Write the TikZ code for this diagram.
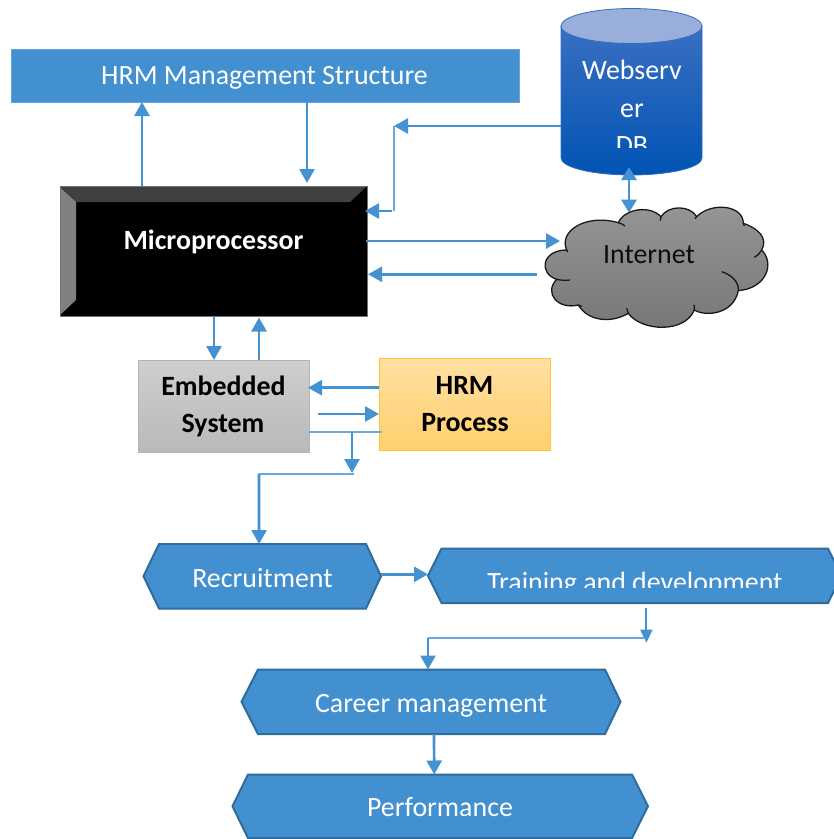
\documentclass[tikz,border=0pt]{standalone}
\usepackage{fontspec}
\setmainfont{Carlito}
\usetikzlibrary{arrows.meta}
\definecolor{hrmblue}{HTML}{4290D0}
\definecolor{hexedge}{HTML}{2F6C9E}
\definecolor{linkblue}{HTML}{4592D3}
\definecolor{thinblue}{HTML}{6AA9DE}
\definecolor{dbtop}{HTML}{3A6FC2}
\definecolor{dbbottom}{HTML}{0054B4}
\definecolor{dblid}{HTML}{9AAEDC}
\definecolor{dbedge}{HTML}{2E6FC4}
\definecolor{embtop}{HTML}{CFCFCF}
\definecolor{embbottom}{HTML}{B9B9B9}
\definecolor{embedge}{HTML}{B4B4B4}
\definecolor{proctop}{HTML}{FFDFA3}
\definecolor{procbottom}{HTML}{FFD06C}
\definecolor{procedge}{HTML}{FFC42E}
\definecolor{cloudtop}{HTML}{969696}
\definecolor{cloudbottom}{HTML}{767676}
\tikzset{
  link/.style={draw=linkblue,line width=2.7pt,-{Triangle[length=14pt,width=15pt]}},
  smalllink/.style={draw=linkblue,line width=2pt,-{Triangle[length=13pt,width=12pt]}},
  bothlink/.style={draw=linkblue,line width=2.7pt,{Triangle[length=13pt,width=15pt]}-{Triangle[length=13pt,width=15pt]}},
  thinlink/.style={draw=thinblue,line width=1.7pt},
  plainlabel/.style={font=\fontsize{27.9}{32}\selectfont,text=white,inner sep=0pt,anchor=base,yshift=-0.8pt},
  boldlabel/.style={font=\fontsize{27.9}{32}\selectfont\bfseries,text=black,inner sep=0pt,anchor=base,yshift=-0.8pt},
  blockbox/.style={rectangle,inner sep=0pt,outer sep=0pt},
  hexfill/.style={fill=hrmblue,draw=hexedge,line width=2pt,line join=miter},
  cloudline/.style={draw=black!90,line width=1.3pt},
}
% name, left tip, left inset, right inset, right tip, top, bottom
\newcommand{\hexblock}[7]{%
  \node[blockbox,minimum width={(#5-#2)*1pt},minimum height={(#7-#6)*1pt}] (#1) at ({(#2+#5)/2},{(#6+#7)/2}) {};
  \draw[hexfill] (#2,{(#6+#7)/2}) -- (#3,#6) -- (#4,#6) -- (#5,{(#6+#7)/2}) -- (#4,#7) -- (#3,#7) -- cycle;
}
\begin{document}
\begin{tikzpicture}[x=1pt,y=-1pt]
\useasboundingbox (0,0) rectangle (834,839);
\clip (0,0) rectangle (834,839);
% ---------- HRM Management Structure
\node[blockbox,fill=hrmblue,draw=hrmblue!80!white,line width=.8pt,minimum width=508pt,minimum height=53pt] (hrm) at (265,75.5) {};
\node[plainlabel] (hrmtext) at (264.5,84) {HRM Management Structure};
% ---------- Database cylinder
\node[blockbox,minimum width=141pt,minimum height=166pt] (db) at (631.5,92) {};
\path[top color=dbtop,bottom color=dbbottom,draw=dbedge,line width=.8pt]
  (561,26) -- (561,158) .. controls (561,167.4) and (592.6,175) .. (631.5,175)
  .. controls (670.4,175) and (702,167.4) .. (702,158) -- (702,26) -- cycle;
\path[fill=dblid,draw=dbedge,line width=.8pt] (631.5,26) ellipse [x radius=70.5,y radius=17.5];
\begin{scope}
  \clip (561,45) rectangle (702,147);
  \node[plainlabel] (dbone) at (632,79) {Webserv};
  \node[plainlabel] (dbtwo) at (632,116.5) {er};
  \node[plainlabel] (dbthree) at (632,154) {DB};
\end{scope}
% ---------- Microprocessor
\node[blockbox,fill=black,draw=black!55,line width=.9pt,minimum width=307pt,minimum height=130pt] (mp) at (213.5,251) {};
\fill[black!75] (61,187) -- (366,187) -- (350,202) -- (76,202) -- cycle;
\fill[black!50] (61,188) -- (76,202) -- (76,300) -- (61,314) -- cycle;
\node[boldlabel,text=white] (mptext) at (213.5,249) {Microprocessor};
% ---------- Internet cloud
\node[blockbox,minimum width=224pt,minimum height=121pt] (net) at (657,267.5) {};
\begin{scope}[shift={(535,200)},x=0.3333pt,y=-0.3333pt]
  \path[top color=cloudtop,bottom color=cloudbottom,cloudline]
    (95,150) .. controls (70,95) and (150,40) .. (250,68)
    .. controls (270,25) and (345,15) .. (378,50)
    .. controls (400,15) and (465,15) .. (485,50)
    .. controls (530,5) and (625,15) .. (625,70)
    .. controls (670,85) and (700,115) .. (680,150)
    .. controls (720,190) and (695,265) .. (610,272)
    .. controls (595,345) and (510,350) .. (478,330)
    .. controls (450,400) and (320,395) .. (280,340)
    .. controls (230,370) and (160,365) .. (130,315)
    .. controls (70,330) and (25,280) .. (65,238)
    .. controls (10,220) and (20,150) .. (95,150) -- cycle;
  \draw[cloudline] (250,68) .. controls (258,70) and (265,74) .. (270,78);
  \draw[cloudline] (378,50) .. controls (377,54) and (377,58) .. (376,62);
  \draw[cloudline] (485,50) .. controls (483,52) and (482,54) .. (480,56);
  \draw[cloudline] (625,70) .. controls (625,72) and (626,74) .. (628,78);
  \draw[cloudline] (680,150) .. controls (675,160) and (668,167) .. (658,172);
  \draw[cloudline] (610,272) .. controls (612,245) and (590,225) .. (560,215);
  \draw[cloudline] (478,330) .. controls (478,325) and (478,320) .. (477,314);
  \draw[cloudline] (280,340) .. controls (278,335) and (276,330) .. (275,325);
  \draw[cloudline] (130,315) .. controls (133,316) and (137,318) .. (141,319);
  \draw[cloudline] (65,238) .. controls (78,241) and (92,242) .. (105,240);
  \draw[cloudline] (95,150) .. controls (96,152) and (97,154) .. (98,156);
\end{scope}
\node[font=\fontsize{27.9}{32}\selectfont,text=black!95,inner sep=0pt,anchor=base] (nettext) at (649,263.5) {Internet};
% ---------- Embedded System
\node[blockbox,top color=embtop,bottom color=embbottom,draw=embedge,line width=.9pt,minimum width=171pt,minimum height=92pt] (emb) at (223.5,406) {};
\node[boldlabel] (embone) at (223.5,395) {Embedded};
\node[boldlabel] (embtwo) at (223,432) {System};
% ---------- HRM Process
\node[blockbox,top color=proctop,bottom color=procbottom,draw=procedge,line width=.9pt,minimum width=171pt,minimum height=92pt] (proc) at (464.5,404) {};
\node[boldlabel] (procone) at (464.5,394) {HRM};
\node[boldlabel] (proctwo) at (465,431) {Process};
% ---------- Hexagons
\hexblock{rec}{143.5}{159}{366}{381}{544}{608.5}
\node[plainlabel] (rectext) at (262.5,587) {Recruitment};
\hexblock{train}{428}{441.5}{828}{841.5}{548.5}{603}
\begin{scope}
  \clip (445,560) rectangle (828,587);
  \node[plainlabel] (traintext) at (635,590.5) {Training and development};
\end{scope}
\hexblock{career}{241.5}{258}{605}{620.5}{669.5}{734}
\node[plainlabel] (careertext) at (431,711.5) {Career management};
\hexblock{perf}{232.5}{248}{632}{648}{774.5}{838}
\node[plainlabel] (perftext) at (440,816) {Performance};
% ---------- Free ends of connectors
\coordinate (dbturn) at (394,126);
\coordinate (mpturn) at (394,211);
\coordinate (mpstub) at (392,211);
\coordinate (mpport) at (365,211);
\coordinate (netin) at (560,241);
\coordinate (mpout) at (366,241);
\coordinate (netout) at (537,274.3);
\coordinate (mpin) at (368,274.3);
\coordinate (netbus) at (629,212.7);
\coordinate (dbbus) at (629,167);
\coordinate (embin) at (318,414);
\coordinate (splitleft) at (309,431.7);
\coordinate (splitright) at (381.7,431.7);
\coordinate (splitdrop) at (352,431.7);
\coordinate (splitend) at (352,473);
\coordinate (busright) at (354,473.7);
\coordinate (busleft) at (259,473.7);
\coordinate (trainstub) at (646.4,608);
\coordinate (trainend) at (646.4,642.7);
\coordinate (careerbusright) at (644,638);
\coordinate (careerbusleft) at (428,638);
% ---------- Connectors
\draw[link] ([xshift=-71.5pt]mp.north) -- ([xshift=-123pt]hrm.south);
\draw[link] ([xshift=42pt]hrm.south) -- ([xshift=93.5pt,yshift=3pt]mp.north);
\draw[link] (db.west |- dbturn) -- (dbturn);
\draw[thinlink] (dbturn) -- (mpturn);
\draw[link] (mpstub) -- (mpport);
\draw[link] (mpout) -- (netin);
\draw[link] (netout) -- (mpin);
\draw[bothlink] (dbbus) -- (netbus);
\draw[link] ([xshift=.5pt]mp.south) -- ([xshift=-9.5pt]emb.north);
\draw[link] ([xshift=35.5pt]emb.north) -- ([xshift=45.5pt,yshift=-1.5pt]mp.south);
\draw[link] ([yshift=16.3pt]proc.west) -- ([yshift=18.3pt,xshift=-1pt]emb.east);
\draw[link] (embin) -- ([yshift=-10pt]proc.west);
\draw[thinlink] (splitleft) -- (splitright);
\draw[link] (splitdrop) -- (splitend);
\draw[thinlink] (busright) -- (busleft);
\draw[link] (busleft) -- ([xshift=-3.2pt]rec.north);
\draw[link] (rec.east |- 0,574.3) -- (train.west |- 0,574.3);
\draw[smalllink] (trainstub) -- (trainend);
\draw[thinlink] (careerbusright) -- (careerbusleft);
\draw[link] (careerbusleft) -- ([xshift=-3pt]career.north);
\draw[link] ([xshift=3pt]career.south) -- ([xshift=-6pt]perf.north);
\end{tikzpicture}
\end{document}
